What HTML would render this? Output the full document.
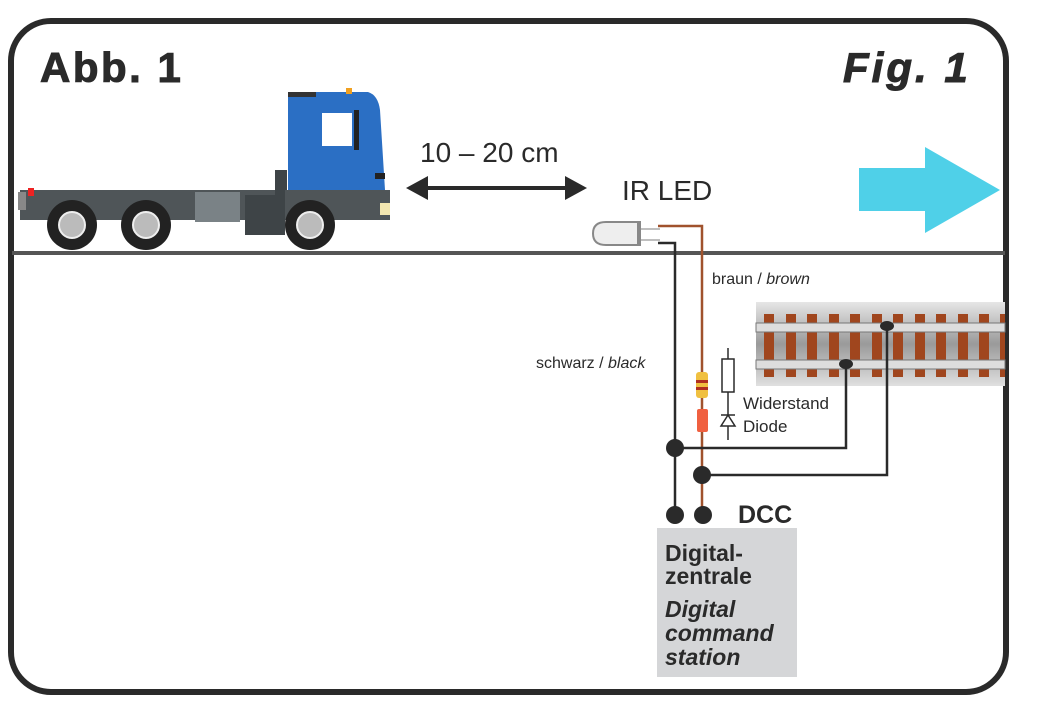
<!DOCTYPE html>
<html><head><style>
body{margin:0;background:#fff;}
svg{display:block;font-family:"Liberation Sans",Arial,sans-serif;}
</style></head><body>
<svg width="1044" height="711" viewBox="0 0 1044 711">
<rect x="0" y="0" width="1044" height="711" fill="#fff"/>
<rect x="11" y="21" width="995" height="671" rx="40" fill="none" stroke="#2a2a2a" stroke-width="6"/>
<text x="40" y="82" font-size="42" font-weight="bold" letter-spacing="2.5" fill="#2a2a2a" stroke="#2a2a2a" stroke-width="1">Abb. 1</text>
<text x="843" y="82" font-size="42" font-weight="bold" font-style="italic" letter-spacing="3" fill="#2a2a2a" stroke="#2a2a2a" stroke-width="1">Fig. 1</text>
<line x1="12" y1="253" x2="1005" y2="253" stroke="#555" stroke-width="4"/>
<!-- truck -->
<rect x="20" y="190" width="370" height="30" fill="#4f5558"/>
<rect x="18" y="192" width="8" height="18" fill="#888"/>
<rect x="28" y="188" width="6" height="8" fill="#e22"/>
<rect x="195" y="192" width="45" height="30" fill="#7a8286"/>
<rect x="245" y="195" width="40" height="40" fill="#3e4447"/>
<rect x="275" y="170" width="12" height="30" fill="#3e4447"/>
<path d="M288 92 L368 92 Q378 95 380 110 L385 190 L288 190 Z" fill="#2b6fc4"/>
<rect x="288" y="92" width="28" height="5" fill="#333"/>
<rect x="322" y="113" width="30" height="33" fill="#fff"/>
<rect x="354" y="110" width="5" height="40" fill="#222"/>
<rect x="346" y="88" width="6" height="6" fill="#f0a020"/>
<rect x="375" y="173" width="10" height="6" fill="#222"/>
<rect x="285" y="190" width="105" height="30" fill="#4f5558"/>
<rect x="380" y="203" width="10" height="12" fill="#f2e6b0"/>
<g fill="#222"><circle cx="72" cy="225" r="25"/><circle cx="146" cy="225" r="25"/><circle cx="310" cy="225" r="25"/></g>
<g fill="#bbb" stroke="#eee" stroke-width="2"><circle cx="72" cy="225" r="13"/><circle cx="146" cy="225" r="13"/><circle cx="310" cy="225" r="13"/></g>
<!-- distance -->
<text x="420" y="162" font-size="28" fill="#2a2a2a">10 – 20 cm</text>
<line x1="420" y1="188" x2="572" y2="188" stroke="#2a2a2a" stroke-width="4"/>
<polygon points="406,188 428,176 428,200" fill="#2a2a2a"/>
<polygon points="587,188 565,176 565,200" fill="#2a2a2a"/>
<text x="622" y="200" font-size="28" fill="#2a2a2a">IR LED</text>
<!-- cyan arrow -->
<polygon points="859,168 925,168 925,147 1000,190 925,233 925,211 859,211" fill="#4fd0e8"/>
<!-- LED -->
<path d="M606 222 L640 222 L640 245 L606 245 Q593 245 593 233.5 Q593 222 606 222 Z" fill="#eee" stroke="#888" stroke-width="2"/>
<rect x="637" y="222" width="4" height="23" fill="#888"/>
<line x1="641" y1="229" x2="660" y2="229" stroke="#aaa" stroke-width="1.5"/>
<line x1="641" y1="240" x2="660" y2="240" stroke="#aaa" stroke-width="1.5"/>
<!-- wires -->
<polyline points="658,226 702,226 702,515" fill="none" stroke="#a0522d" stroke-width="2.5"/>
<polyline points="658,243 675,243 675,515" fill="none" stroke="#2a2a2a" stroke-width="2.5"/>
<text x="712" y="284" font-size="16" fill="#2a2a2a">braun / <tspan font-style="italic">brown</tspan></text>
<text x="536" y="368" font-size="16" fill="#2a2a2a">schwarz / <tspan font-style="italic">black</tspan></text>
<rect x="696" y="372" width="12" height="26" rx="3" fill="#f0c040"/>
<rect x="696" y="380" width="12" height="3" fill="#b03020"/><rect x="696" y="387" width="12" height="3" fill="#b03020"/>
<rect x="697" y="409" width="11" height="23" rx="2" fill="#f06040"/>
<!-- symbols -->
<line x1="728" y1="348" x2="728" y2="440" stroke="#2a2a2a" stroke-width="1.5"/>
<rect x="722" y="359" width="12" height="33" fill="#fff" stroke="#2a2a2a" stroke-width="1.5"/>
<polygon points="728,415 721,426 735,426" fill="#fff" stroke="#2a2a2a" stroke-width="1.5"/>
<line x1="721" y1="415" x2="735" y2="415" stroke="#2a2a2a" stroke-width="1.5"/>
<text x="743" y="409" font-size="17" fill="#2a2a2a">Widerstand</text>
<text x="743" y="432" font-size="17" fill="#2a2a2a">Diode</text>
<!-- track -->
<defs><linearGradient id="tg" x1="0" y1="0" x2="0" y2="1"><stop offset="0" stop-color="#e6e6e6"/><stop offset="0.5" stop-color="#9a9a9a"/><stop offset="1" stop-color="#e0e0e0"/></linearGradient></defs>
<rect x="756" y="302" width="249" height="84" fill="url(#tg)"/>
<g fill="#a0461e">
<rect x="764" y="314" width="10" height="63"/><rect x="786" y="314" width="10" height="63"/><rect x="807" y="314" width="10" height="63"/><rect x="829" y="314" width="10" height="63"/><rect x="850" y="314" width="10" height="63"/><rect x="872" y="314" width="10" height="63"/><rect x="893" y="314" width="10" height="63"/><rect x="915" y="314" width="10" height="63"/><rect x="936" y="314" width="10" height="63"/><rect x="958" y="314" width="10" height="63"/><rect x="979" y="314" width="10" height="63"/><rect x="1000" y="314" width="5" height="63"/>
</g>
<rect x="756" y="323" width="249" height="9" fill="#ddd" stroke="#777" stroke-width="1"/>
<rect x="756" y="360" width="249" height="9" fill="#ddd" stroke="#777" stroke-width="1"/>
<polyline points="675,448 846,448 846,362" fill="none" stroke="#2a2a2a" stroke-width="2.5"/>
<polyline points="702,475 887,475 887,322" fill="none" stroke="#2a2a2a" stroke-width="2.5"/>
<ellipse cx="846" cy="364" rx="7" ry="5" fill="#2a2a2a"/>
<ellipse cx="887" cy="326" rx="7" ry="5" fill="#2a2a2a"/>
<g fill="#2a2a2a"><circle cx="675" cy="448" r="9"/><circle cx="702" cy="475" r="9"/><circle cx="675" cy="515" r="9"/><circle cx="703" cy="515" r="9"/></g>
<text x="738" y="523" font-size="25" font-weight="bold" fill="#2a2a2a">DCC</text>
<rect x="657" y="528" width="140" height="149" fill="#d5d6d8"/>
<g font-size="23" font-weight="bold" fill="#2a2a2a">
<text x="665" y="561">Digital-</text><text x="665" y="584">zentrale</text>
<g font-style="italic"><text x="665" y="617">Digital</text><text x="665" y="641">command</text><text x="665" y="665">station</text></g>
</g>
</svg>
</body></html>
